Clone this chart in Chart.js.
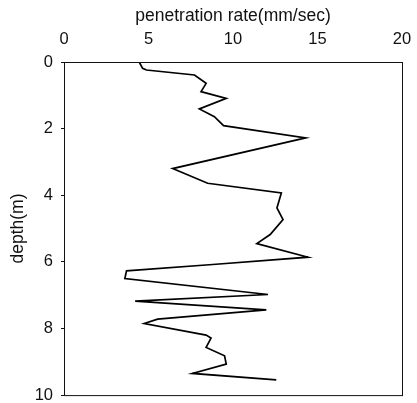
<!DOCTYPE html>
<html>
<head>
<meta charset="utf-8">
<script src="https://cdn.jsdelivr.net/npm/chart.js@4.4.0/dist/chart.umd.min.js"></script>
<style>
  html, body { margin: 0; padding: 0; background: #fff; overflow: hidden; }
  #wrap { width: 417px; height: 413px; }
</style>
</head>
<body>
<div id="wrap"><canvas id="myChart"></canvas></div>
<script>
// depth (m) and penetration rate (mm/sec)
const depth = [0, 0.19, 0.24, 0.39, 0.64, 0.89, 1.09, 1.41, 1.64, 1.91, 2.28, 3.2, 3.64, 3.93, 4.38, 4.73, 5.18, 5.45, 5.86, 6.08, 6.27, 6.5, 6.98, 7.18, 7.44, 7.72, 7.85, 8.2, 8.29, 8.57, 8.82, 9.07, 9.35, 9.54];
const rate  = [4.45, 4.65, 4.88, 7.72, 8.41, 8.11, 9.6, 8.01, 8.9, 9.44, 14.3, 6.43, 8.5, 12.86, 12.6, 12.96, 12.2, 11.41, 14.44, 8.8, 3.7, 3.6, 12.07, 4.21, 11.97, 5.54, 4.75, 8.41, 8.7, 8.41, 9.5, 9.6, 7.6, 12.56];
const xTicks = [0, 5, 10, 15, 20];
const yTicks = [0, 2, 4, 6, 8, 10];

const frame = {
    id: 'frame',
    afterDraw(chart) {
        const { ctx, chartArea: a } = chart;
        ctx.save();
        ctx.strokeStyle = '#111';
        ctx.lineWidth = 1;
        ctx.strokeRect(a.left + 0.5, a.top + 0.5, a.right - a.left, a.bottom - a.top);
        ctx.restore();
    }
};

Chart.defaults.font.family = '"Liberation Sans", Arial, sans-serif';
Chart.defaults.color = '#111';

new Chart(document.getElementById('myChart').getContext('2d'), {
    type: 'scatter',
    data: {
        datasets: [{
            data: depth.map((d, i) => ({ x: rate[i], y: d })),
            showLine: true,
            borderColor: '#000',
            borderWidth: 1.7,
            pointRadius: 0,
            tension: 0,
        }]
    },
    options: {
        animation: false,
        responsive: true,
        maintainAspectRatio: false,
        layout: { padding: { left: 8, right: 15, top: 6, bottom: 0 } },
        plugins: { legend: { display: false }, tooltip: { enabled: false } },
        scales: {
            x: {
                type: 'linear',
                position: 'top',
                min: 0, max: 20,
                afterBuildTicks: axis => { axis.ticks = xTicks.map(v => ({ value: v })); },
                afterFit: axis => { axis.height = 56; },
                ticks: { font: { size: 16.5 }, padding: 5, maxRotation: 0 },
                grid: { drawOnChartArea: false, tickLength: 8, tickColor: 'rgba(0,0,0,0)' },
                border: { display: false },
                title: { display: true, text: 'penetration rate(mm/sec)', font: { size: 17.5 }, padding: { top: 0, bottom: 4 } },
            },
            y: {
                type: 'linear',
                reverse: true,
                min: 0, max: 10,
                afterBuildTicks: axis => { axis.ticks = yTicks.map(v => ({ value: v })); },
                afterFit: axis => { axis.width = 56; },
                ticks: { font: { size: 16.5 }, padding: 8 },
                grid: { drawOnChartArea: false, tickLength: 3, color: '#111' },
                border: { display: false },
                title: { display: true, text: 'depth(m)', font: { size: 17.5 }, padding: { top: 0, bottom: 6 } },
            },
        },
    },
    plugins: [frame],
});
</script>
</body>
</html>
